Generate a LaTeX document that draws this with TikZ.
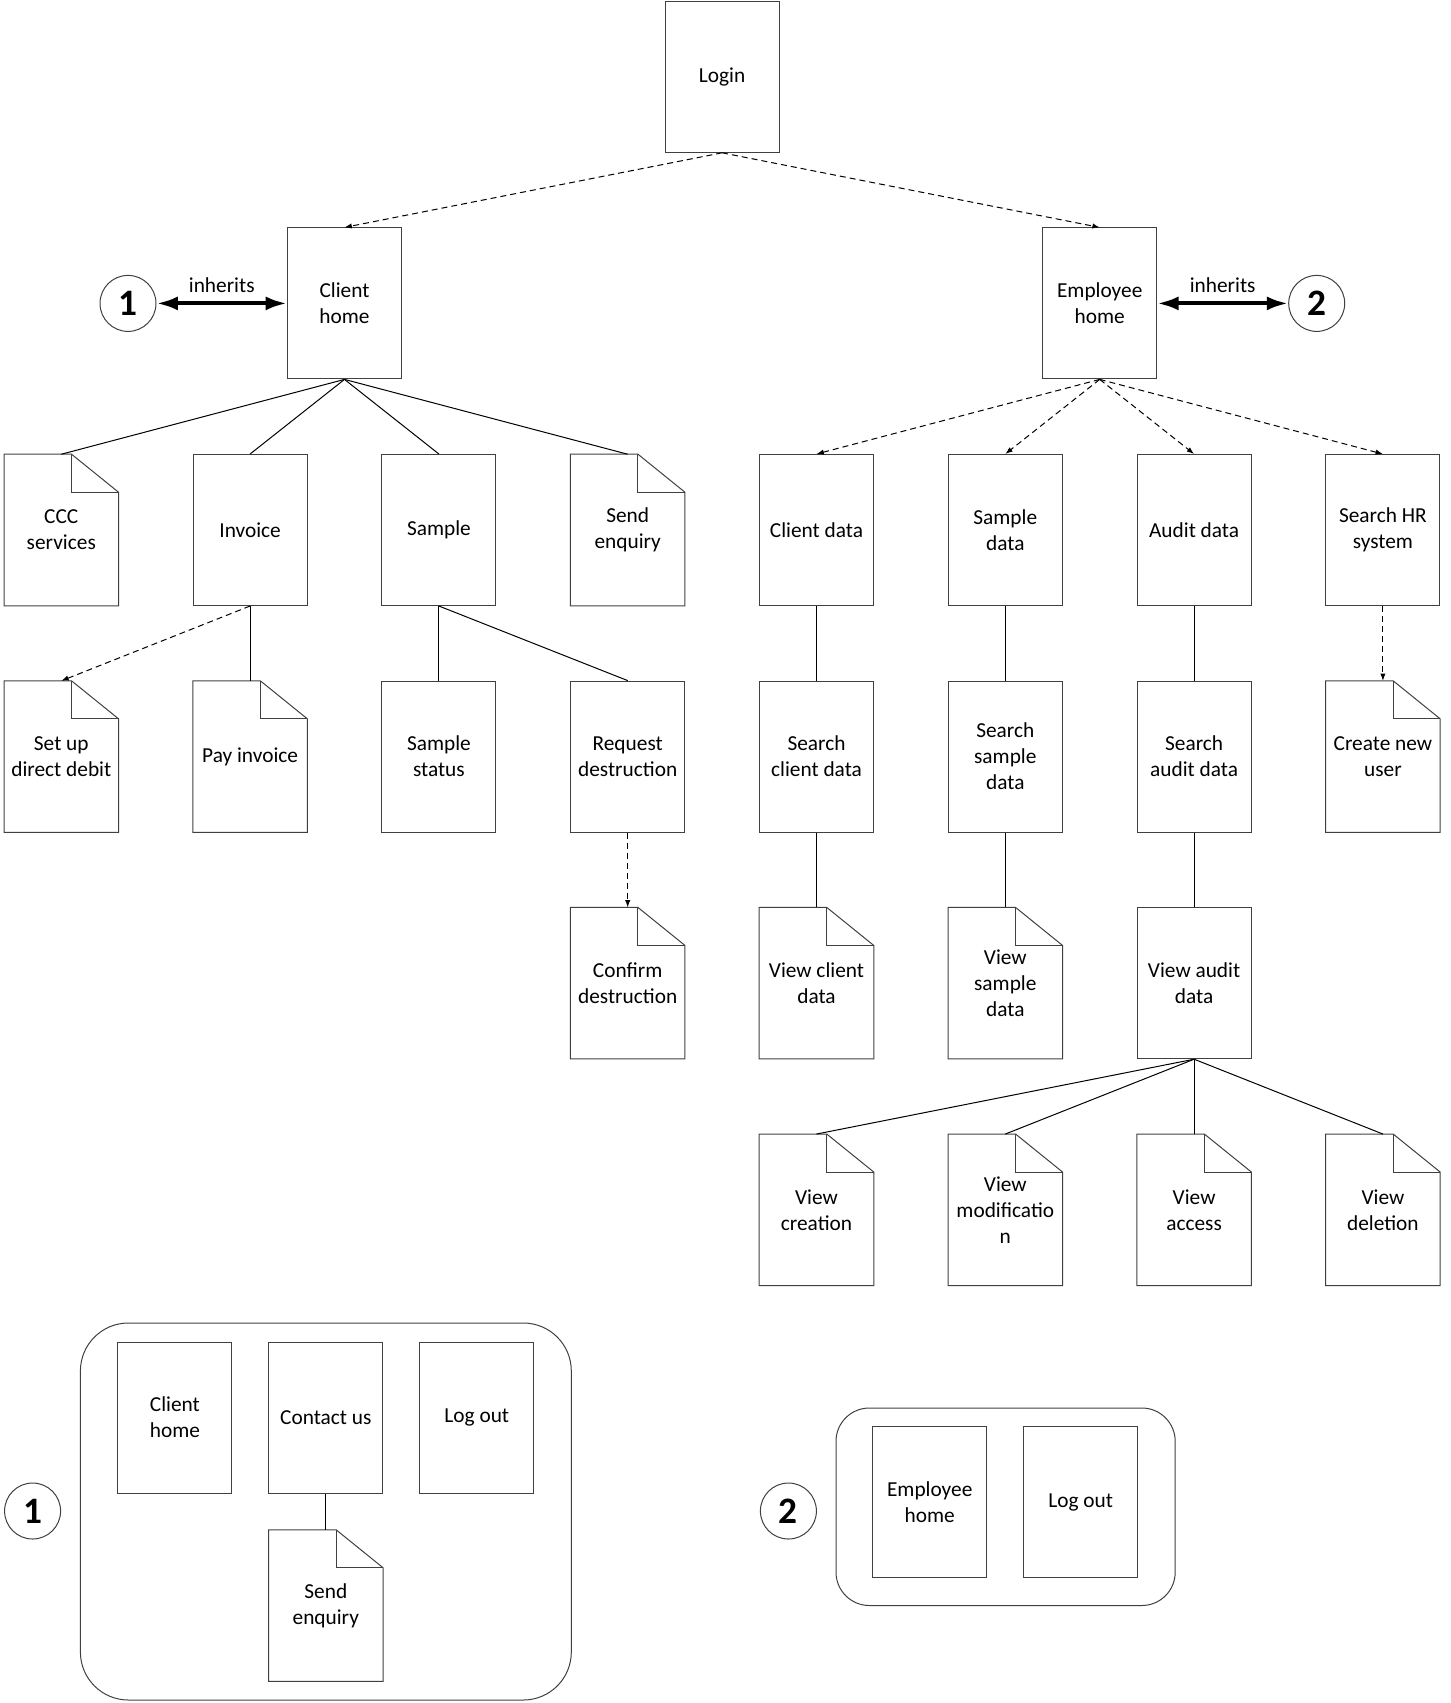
\documentclass[tikz,border=0pt]{standalone}
\usepackage{fontspec}
\setmainfont{Carlito}
\usetikzlibrary{arrows.meta}

\begin{document}
\begin{tikzpicture}[x=0.75pt,y=-0.75pt,
    every node/.style={font=\fontsize{16}{19.5}\selectfont, align=center},
    pagebox/.style={draw=black!75, line width=0.75pt, minimum width=85.5pt, minimum height=113.25pt, inner sep=0pt},
    docbox/.style={minimum width=85.5pt, minimum height=113.25pt, inner sep=0pt},
    marker/.style={circle, draw=black!75, line width=0.75pt, minimum size=42pt, inner sep=0pt, font=\fontsize{28}{30}\selectfont\bfseries},
    link/.style={line width=0.75pt},
    dlink/.style={line width=0.75pt, dash pattern=on 4.5pt off 3pt, -{Latex[length=5.5pt,width=4pt]}},
    inherit/.style={line width=3pt, {Latex[length=16pt,width=10.5pt]}-{Latex[length=16pt,width=10.5pt]}},
    groupbox/.style={draw=black!75, line width=0.75pt}]

    \useasboundingbox (0,0) rectangle (1450,1703);

    % top
    \node[pagebox] (login) at (722.1,76.8) {Login};
    \node[pagebox] (chome) at (344.5,303.4) {Client\\home};
    \node[pagebox] (ehome) at (1099.7,303.4) {Employee\\home};
    \node[marker] (m1) at (128,303.4) {1};
    \node[marker] (m2) at (1316.7,303.4) {2};

    % row 3
    \node[docbox] (ccc) at (61.3,530) {CCC\\services};
    \node[pagebox] (invoice) at (250.1,530) {Invoice};
    \node[pagebox] (sample) at (438.9,530) {Sample};
    \node[docbox] (enquiry) at (627.7,530) {Send\\enquiry};
    \node[pagebox] (cdata) at (816.5,530) {Client data};
    \node[pagebox] (sdata) at (1005.3,530) {Sample\\data};
    \node[pagebox] (adata) at (1194.1,530) {Audit data};
    \node[pagebox] (hr) at (1382.9,530) {Search HR\\system};

    % row 4
    \node[docbox] (debit) at (61.3,756.6) {Set up\\direct debit};
    \node[docbox] (pay) at (250.1,756.6) {Pay invoice};
    \node[pagebox] (status) at (438.9,756.6) {Sample\\status};
    \node[pagebox] (request) at (627.7,756.6) {Request\\destruction};
    \node[pagebox] (csearch) at (816.5,756.6) {Search\\client data};
    \node[pagebox] (ssearch) at (1005.3,756.6) {Search\\sample\\data};
    \node[pagebox] (asearch) at (1194.1,756.6) {Search\\audit data};
    \node[docbox] (newuser) at (1382.9,756.6) {Create new\\user};

    % row 5
    \node[docbox] (confirm) at (627.7,983.2) {Confirm\\destruction};
    \node[docbox] (cview) at (816.5,983.2) {View client\\data};
    \node[docbox] (sview) at (1005.3,983.2) {View\\sample\\data};
    \node[pagebox] (aview) at (1194.1,983.2) {View audit\\data};

    % row 6
    \node[docbox] (creation) at (816.5,1209.8) {View\\creation};
    \node[docbox] (modif) at (1005.3,1209.8) {View\\modificatio\\n};
    \node[docbox] (access) at (1194.1,1209.8) {View\\access};
    \node[docbox] (deletion) at (1382.9,1209.8) {View\\deletion};

    % legend
    \draw[groupbox, rounded corners=36pt] (80.4,1323) rectangle (571.3,1700);
    \draw[groupbox, rounded corners=25pt] (836,1408) rectangle (1175.2,1605.5);
    \node[marker] (k1) at (32.6,1511) {1};
    \node[marker] (k2) at (788.4,1511) {2};
    \node[pagebox] (lhome) at (174.9,1417.5) {Client\\home};
    \node[pagebox] (lcontact) at (325.8,1417.5) {Contact us};
    \node[pagebox] (lout1) at (476.8,1417.5) {Log out};
    \node[docbox] (lenquiry) at (325.8,1605.5) {Send\\enquiry};
    \node[pagebox] (lehome) at (929.7,1502) {Employee\\home};
    \node[pagebox] (lout2) at (1080.7,1502) {Log out};

    % document outlines
    \foreach \d in {ccc,enquiry,debit,pay,newuser,confirm,cview,sview,creation,modif,access,deletion,lenquiry}{
        \draw[groupbox] (\d.south west) -- (\d.north west) -- ([xshift=-35.25pt]\d.north east) -- ([yshift=-28.5pt]\d.north east) -- (\d.south east) -- cycle;
        \draw[groupbox] ([xshift=-35.25pt]\d.north east) |- ([yshift=-28.5pt]\d.north east);
    }

    % connectors
    \draw[dlink] (login.south) -- (chome.north);
    \draw[dlink] (login.south) -- (ehome.north);
    \draw[inherit] (m1) -- node[above=3pt] {inherits} (chome);
    \draw[inherit] (ehome) -- node[above=3pt] {inherits} (m2);

    \foreach \c in {ccc,invoice,sample,enquiry} \draw[link] (chome.south) -- (\c.north);
    \foreach \c in {cdata,sdata,adata,hr} \draw[dlink] (ehome.south) -- (\c.north);

    \draw[dlink] (invoice.south) -- (debit.north);
    \draw[link] (invoice) -- (pay);
    \draw[link] (sample) -- (status);
    \draw[link] (sample.south) -- (request.north);
    \draw[dlink] (request) -- (confirm);
    \draw[link] (cdata) -- (csearch) -- (cview);
    \draw[link] (sdata) -- (ssearch) -- (sview);
    \draw[link] (adata) -- (asearch) -- (aview);
    \draw[dlink] (hr) -- (newuser);
    \foreach \c in {creation,modif,access,deletion} \draw[link] (aview.south) -- (\c.north);

    \draw[link] (lcontact) -- (lenquiry);
\end{tikzpicture}
\end{document}
